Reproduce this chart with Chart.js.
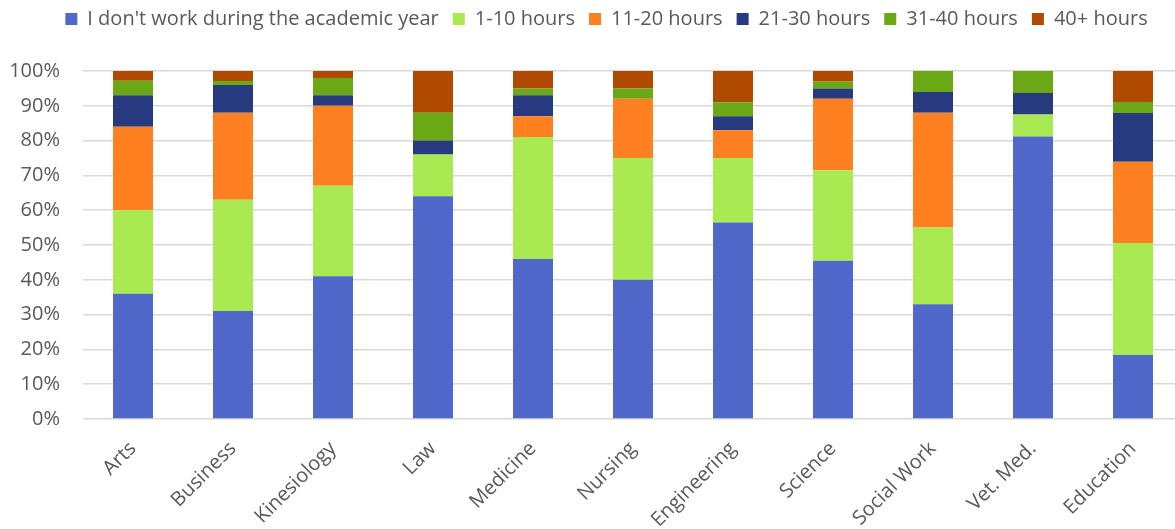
<!DOCTYPE html>
<html>
<head>
<meta charset="utf-8">
<script src="https://cdn.jsdelivr.net/npm/chart.js@4/dist/chart.umd.min.js"></script>
<style>
  html, body { margin: 0; padding: 0; background: #fff; overflow: hidden; }
  #wrap { position: relative; width: 1183px; height: 529px; }
</style>
</head>
<body>
<div id="wrap"><canvas id="hoursChart"></canvas></div>
<script>
// ─── Data ─────────────────────────────────────────────
const faculties = ['Arts', 'Business', 'Kinesiology', 'Law', 'Medicine', 'Nursing',
  'Engineering', 'Science', 'Social Work', 'Vet. Med.', 'Education'];

const noWork  = [36, 31, 41, 64, 46, 40, 56.5, 45.5, 33, 81.2, 18.4];
const h1to10  = [24, 32, 26, 12, 35, 35, 18.5, 26, 22, 6.3, 32.2];
const h11to20 = [24, 25, 23, 0, 6, 17, 8, 20.5, 33, 0, 23.3];
const h21to30 = [9, 8, 3, 4, 6, 0, 4, 3, 6, 6.2, 14];
const h31to40 = [4.2, 1.1, 5, 8, 2, 3, 4, 2, 6, 6.3, 3.2];
const h40plus = [2.8, 2.9, 2, 12, 5, 5, 9, 3, 0, 0, 8.9];

const yTicks = [0, 10, 20, 30, 40, 50, 60, 70, 80, 90, 100];

const labelFont = { size: 20, family: 'Open Sans' };
const textColor = '#595959';

function series(label, data, color) {
    return {
        label: label,
        data: data,
        backgroundColor: color,
        borderWidth: 0,
        barPercentage: 0.4,
        categoryPercentage: 1.0
    };
}

// extra room under the legend, and nudge it into place
const legendTweak = {
    id: 'legendTweak',
    beforeInit(chart) {
        const fit = chart.legend.fit;
        chart.legend.fit = function () {
            fit.call(this);
            this.height += 27;
        };
    },
    afterLayout(chart) {
        const lg = chart.legend;
        lg.left += 15;
        lg.right += 15;
        lg.top -= 5;
        lg.bottom -= 5;
    }
};

const ctx = document.getElementById('hoursChart').getContext('2d');

new Chart(ctx, {
    type: 'bar',
    data: {
        labels: faculties,
        datasets: [
            series("I don't work during the academic year", noWork, '#4F68C9'),
            series('1-10 hours', h1to10, '#A9EA52'),
            series('11-20 hours', h11to20, '#FE8020'),
            series('21-30 hours', h21to30, '#273A7F'),
            series('31-40 hours', h31to40, '#6AA816'),
            series('40+ hours', h40plus, '#AF4A00')
        ]
    },
    plugins: [legendTweak],
    options: {
        responsive: true,
        maintainAspectRatio: false,
        animation: false,
        plugins: {
            legend: {
                position: 'top',
                align: 'center',
                labels: {
                    boxWidth: 12,
                    boxHeight: 12,
                    padding: 14,
                    font: labelFont,
                    color: textColor
                }
            },
            tooltip: { enabled: false }
        },
        scales: {
            x: {
                stacked: true,
                grid: { display: false },
                border: { display: false },
                ticks: {
                    font: labelFont,
                    color: textColor,
                    minRotation: 45,
                    maxRotation: 45,
                    autoSkip: false,
                    padding: 10
                },
                afterFit: s => { s.height = 110; }
            },
            y: {
                stacked: true,
                min: 0,
                max: 100,
                afterBuildTicks: s => { s.ticks = yTicks.map(v => ({ value: v })); },
                ticks: {
                    font: labelFont,
                    color: textColor,
                    padding: 23,
                    callback: v => v + '%'
                },
                grid: { color: '#d9d9d9', lineWidth: 1.5, drawTicks: false },
                border: { display: false },
                afterFit: s => { s.width = 83; }
            }
        }
    }
});
</script>
</body>
</html>
